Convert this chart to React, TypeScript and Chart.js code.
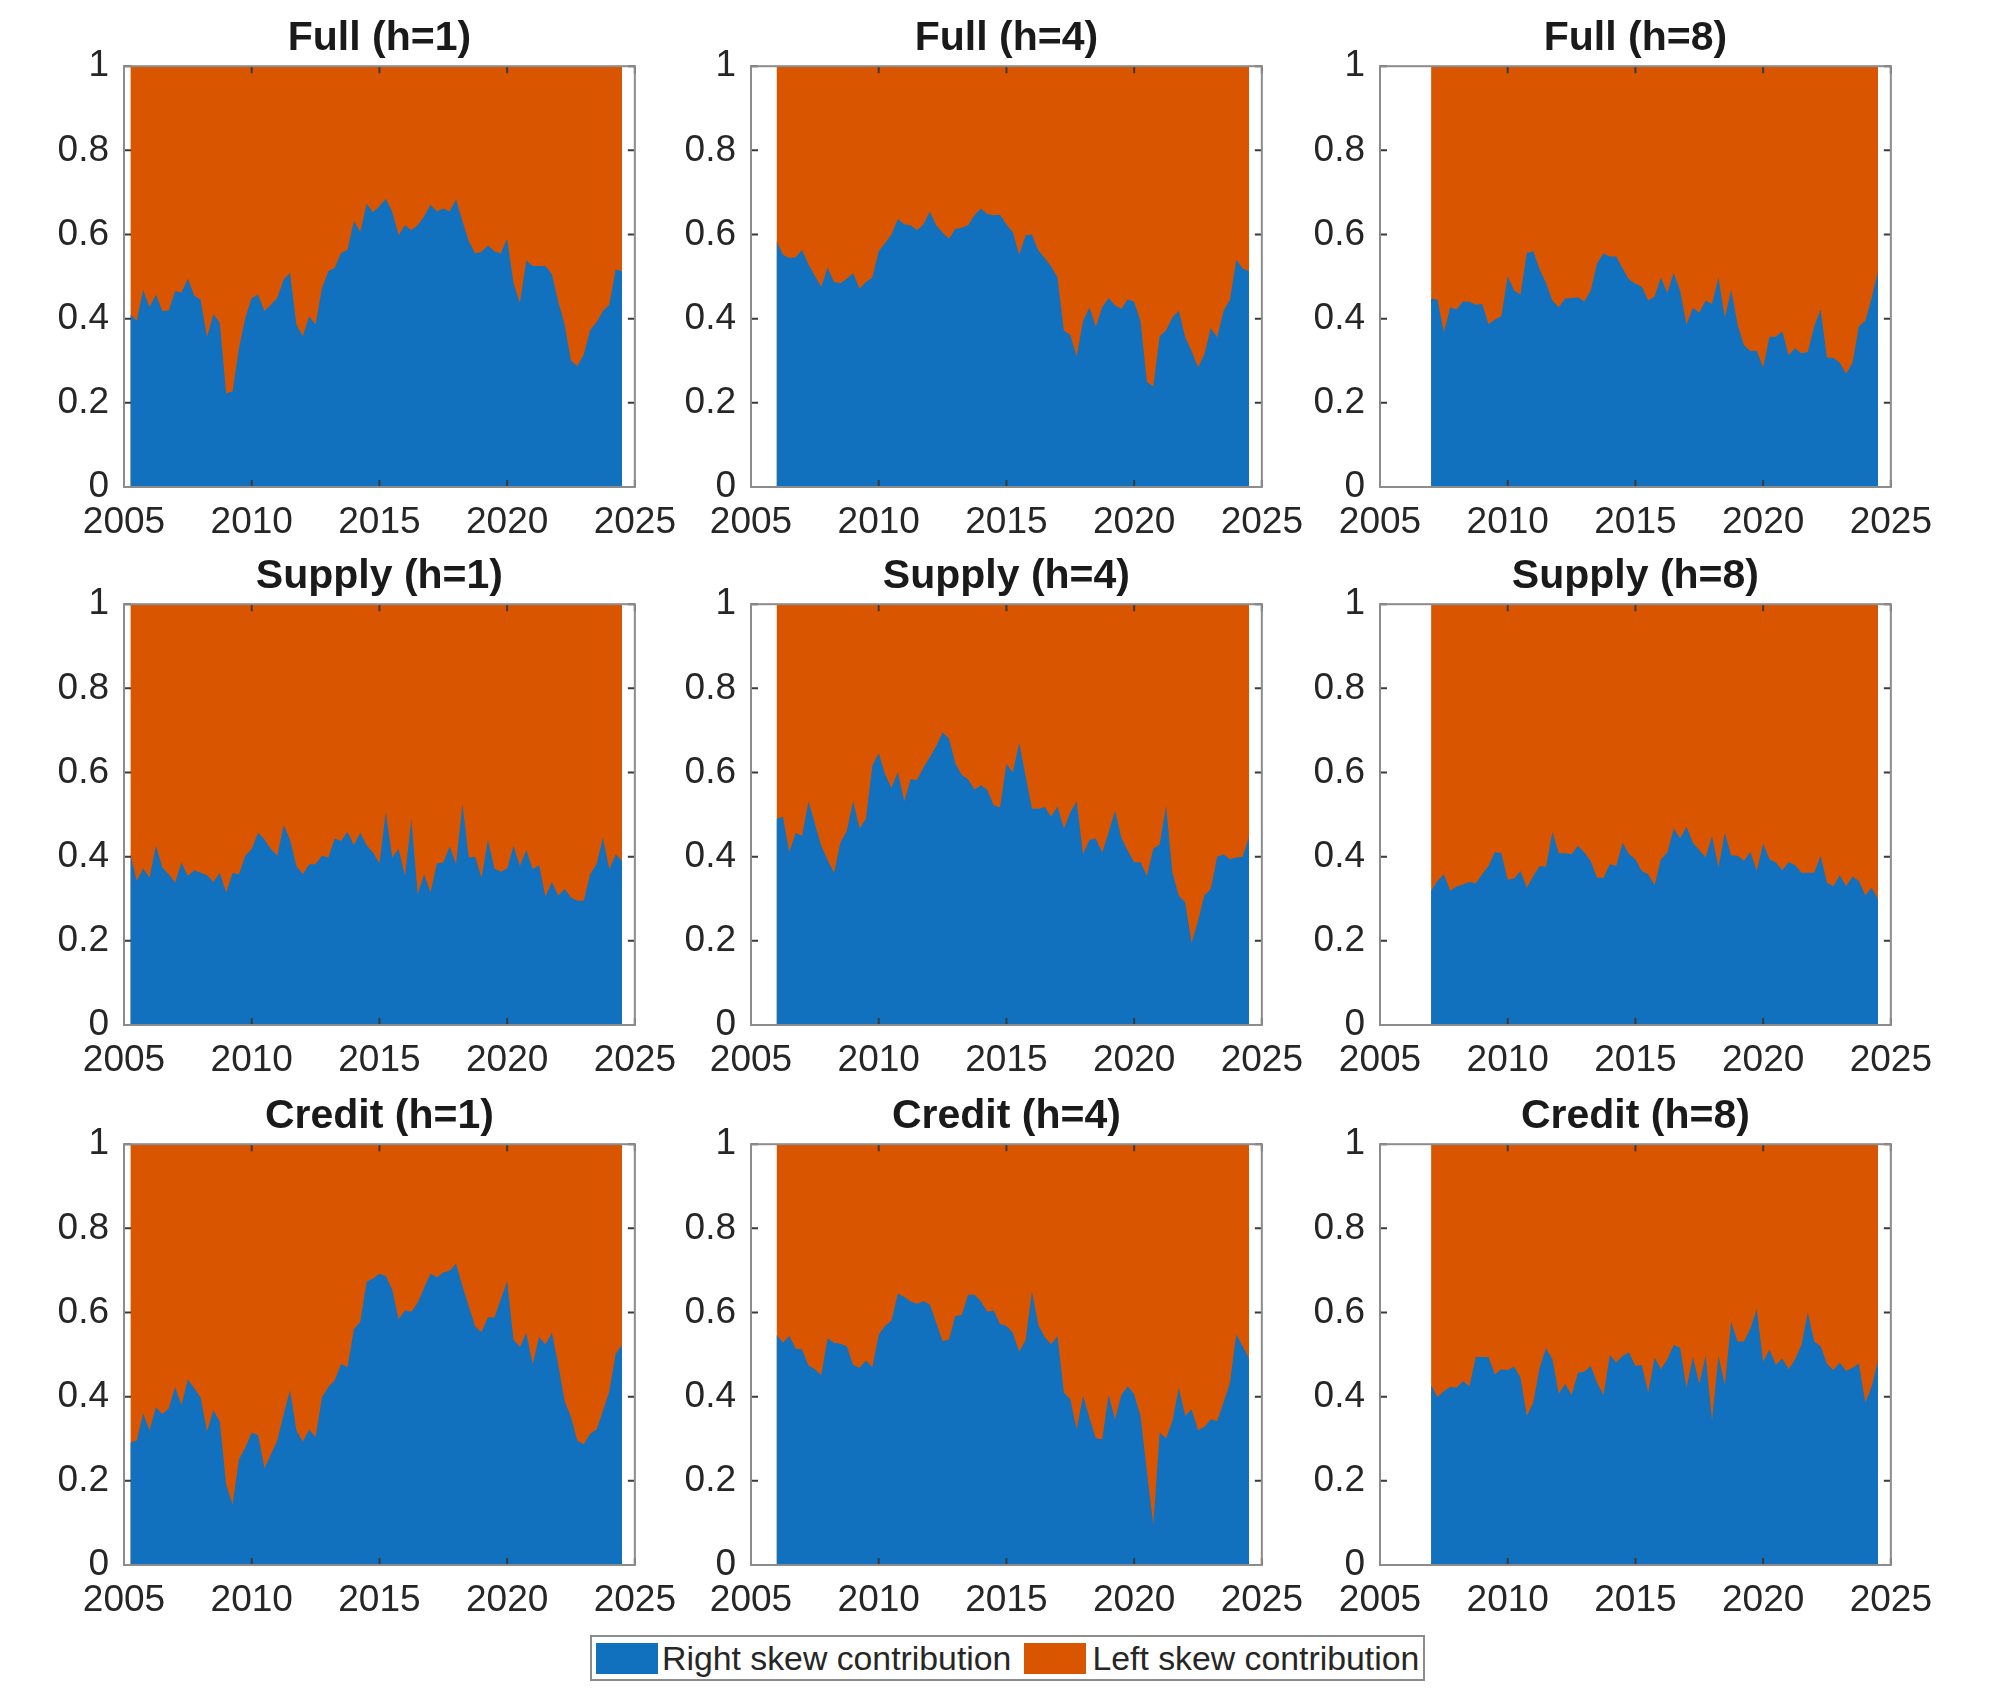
import React, { useEffect, useRef } from 'react';
import { Chart, registerables } from 'chart.js';

Chart.register(...registerables);

const FONT = '"Liberation Sans", Arial, Helvetica, sans-serif';
const BLUE = '#1171be';
const ORANGE = '#d95500';
const TEXT = '#262626';

const SERIES_RIGHT = 'Right skew contribution';
const SERIES_LEFT = 'Left skew contribution';

// first quarter of each horizon's sample (decimal years), quarterly data
const START_H1 = 2005.25;
const START_H4 = 2006.0;
const START_H8 = 2007.0;

const xTickValues = [2005, 2010, 2015, 2020, 2025];
const xTickLabels = ['2005', '2010', '2015', '2020', '2025'];
const yTickLabels = ['0', '0.2', '0.4', '0.6', '0.8', '1'];

// Right skew contribution (share)
const fullH1 = [0.410,0.395,0.468,0.427,0.457,0.418,0.419,0.465,0.462,0.495,0.455,0.445,0.356,0.411,0.390,0.223,0.227,0.330,0.402,0.449,0.457,0.418,0.433,0.449,0.493,0.509,0.386,0.358,0.406,0.386,0.473,0.513,0.521,0.556,0.564,0.632,0.606,0.673,0.653,0.667,0.685,0.655,0.598,0.622,0.610,0.622,0.643,0.671,0.655,0.662,0.655,0.683,0.632,0.584,0.555,0.559,0.574,0.560,0.555,0.590,0.485,0.437,0.538,0.525,0.525,0.525,0.506,0.441,0.386,0.300,0.287,0.315,0.373,0.391,0.418,0.433,0.517,0.513];
const fullH4 = [0.584,0.552,0.544,0.546,0.563,0.529,0.502,0.476,0.521,0.487,0.484,0.495,0.508,0.471,0.487,0.498,0.560,0.580,0.600,0.637,0.624,0.622,0.610,0.624,0.655,0.622,0.605,0.590,0.613,0.616,0.622,0.646,0.661,0.649,0.646,0.647,0.624,0.606,0.552,0.598,0.600,0.562,0.544,0.524,0.498,0.372,0.361,0.311,0.394,0.427,0.380,0.427,0.449,0.432,0.423,0.446,0.440,0.394,0.250,0.239,0.358,0.372,0.403,0.419,0.356,0.323,0.284,0.315,0.378,0.356,0.418,0.445,0.540,0.519,0.513];
const fullH8 = [0.448,0.445,0.368,0.427,0.422,0.441,0.440,0.433,0.435,0.387,0.398,0.406,0.501,0.467,0.457,0.556,0.560,0.517,0.485,0.443,0.427,0.448,0.449,0.451,0.441,0.467,0.532,0.555,0.548,0.548,0.519,0.493,0.483,0.476,0.443,0.453,0.498,0.461,0.509,0.467,0.386,0.426,0.414,0.443,0.435,0.498,0.402,0.469,0.386,0.337,0.323,0.324,0.284,0.357,0.357,0.370,0.313,0.330,0.318,0.321,0.382,0.422,0.307,0.307,0.295,0.269,0.295,0.382,0.395,0.449,0.513];
const supplyH1 = [0.406,0.342,0.372,0.350,0.426,0.374,0.358,0.338,0.386,0.354,0.368,0.362,0.356,0.340,0.362,0.315,0.361,0.358,0.402,0.418,0.457,0.441,0.418,0.402,0.475,0.440,0.378,0.358,0.382,0.382,0.402,0.398,0.443,0.437,0.459,0.427,0.457,0.427,0.410,0.384,0.506,0.398,0.419,0.354,0.489,0.311,0.358,0.315,0.384,0.386,0.424,0.382,0.525,0.398,0.400,0.350,0.441,0.372,0.364,0.372,0.426,0.378,0.416,0.370,0.380,0.305,0.340,0.307,0.323,0.303,0.295,0.295,0.358,0.382,0.445,0.370,0.406,0.390];
const supplyH4 = [0.490,0.495,0.411,0.457,0.449,0.532,0.479,0.426,0.392,0.361,0.433,0.461,0.532,0.467,0.490,0.616,0.646,0.596,0.564,0.601,0.532,0.584,0.582,0.612,0.636,0.663,0.695,0.681,0.622,0.594,0.584,0.559,0.570,0.559,0.522,0.517,0.620,0.600,0.671,0.592,0.514,0.514,0.518,0.495,0.519,0.467,0.505,0.532,0.406,0.440,0.443,0.410,0.457,0.509,0.445,0.414,0.387,0.387,0.354,0.419,0.429,0.521,0.362,0.307,0.291,0.194,0.247,0.308,0.323,0.400,0.406,0.394,0.398,0.400,0.448];
const supplyH8 = [0.319,0.342,0.358,0.319,0.329,0.334,0.340,0.337,0.358,0.378,0.411,0.408,0.345,0.348,0.366,0.326,0.354,0.378,0.376,0.459,0.408,0.408,0.406,0.426,0.410,0.390,0.350,0.350,0.382,0.378,0.433,0.406,0.394,0.366,0.358,0.332,0.394,0.410,0.467,0.443,0.471,0.433,0.416,0.398,0.449,0.374,0.457,0.403,0.402,0.390,0.412,0.366,0.431,0.394,0.386,0.368,0.387,0.380,0.362,0.362,0.362,0.402,0.338,0.330,0.356,0.330,0.353,0.342,0.308,0.326,0.299];
const creditH1 = [0.291,0.296,0.360,0.320,0.375,0.358,0.372,0.423,0.380,0.441,0.420,0.398,0.317,0.368,0.341,0.192,0.144,0.251,0.279,0.314,0.309,0.230,0.263,0.295,0.358,0.415,0.320,0.293,0.322,0.304,0.398,0.423,0.439,0.478,0.470,0.560,0.578,0.673,0.681,0.692,0.687,0.655,0.584,0.605,0.602,0.623,0.659,0.692,0.684,0.695,0.699,0.716,0.663,0.615,0.566,0.554,0.589,0.588,0.631,0.675,0.536,0.518,0.552,0.477,0.542,0.524,0.552,0.477,0.390,0.352,0.295,0.287,0.312,0.322,0.366,0.413,0.502,0.523];
const creditH4 = [0.547,0.528,0.544,0.514,0.512,0.474,0.465,0.451,0.539,0.528,0.526,0.520,0.475,0.469,0.486,0.470,0.547,0.568,0.581,0.645,0.637,0.626,0.621,0.627,0.619,0.576,0.532,0.536,0.592,0.594,0.642,0.642,0.627,0.602,0.605,0.573,0.568,0.552,0.507,0.534,0.650,0.570,0.542,0.524,0.544,0.410,0.394,0.322,0.402,0.350,0.301,0.299,0.404,0.346,0.404,0.425,0.406,0.354,0.223,0.095,0.314,0.301,0.342,0.421,0.354,0.370,0.320,0.328,0.346,0.342,0.386,0.433,0.548,0.520,0.491];
const creditH8 = [0.428,0.399,0.413,0.423,0.421,0.437,0.425,0.494,0.494,0.494,0.453,0.465,0.463,0.472,0.445,0.354,0.386,0.469,0.515,0.489,0.407,0.431,0.404,0.457,0.459,0.473,0.433,0.404,0.499,0.481,0.497,0.505,0.473,0.475,0.410,0.493,0.465,0.489,0.523,0.516,0.421,0.494,0.431,0.497,0.344,0.497,0.428,0.578,0.531,0.531,0.562,0.608,0.483,0.512,0.475,0.491,0.465,0.489,0.523,0.600,0.531,0.520,0.478,0.463,0.481,0.461,0.469,0.478,0.386,0.425,0.486];

const titles = [
  'Full (h=1)', 'Full (h=4)', 'Full (h=8)',
  'Supply (h=1)', 'Supply (h=4)', 'Supply (h=8)',
  'Credit (h=1)', 'Credit (h=4)', 'Credit (h=8)',
];
const starts = [START_H1, START_H4, START_H8];
const seriesGrid = [
  [fullH1, fullH4, fullH8],
  [supplyH1, supplyH4, supplyH8],
  [creditH1, creditH4, creditH8],
];

// layout (pixels)
const COL_LEFT = [124, 751, 1380];
const ROW_TOP = [66, 604, 1144];
const AX_W = 516;
const AX_H = 421;
const PAD_L = 100;
const PAD_T = 64;
const PAD_R = 50;
const PAD_B = 70;
const TITLE_PAD_B = 3;

function quarterDates(start: number, n: number): number[] {
  const out: number[] = [];
  for (let i = 0; i < n; i++) out.push(start + i * 0.25);
  return out;
}

const boxPlugin = {
  id: 'matlabBox',
  afterDatasetsDraw(chart: any) {
    const { ctx, chartArea: a, scales } = chart;
    const x = scales.x;
    const y = scales.y;
    const L = 7;
    ctx.save();
    ctx.strokeStyle = '#3a3a3a';
    ctx.lineWidth = 2;
    ctx.beginPath();
    x.ticks.forEach((t: any) => {
      const px = x.getPixelForValue(t.value);
      ctx.moveTo(px, a.bottom);
      ctx.lineTo(px, a.bottom - L);
      ctx.moveTo(px, a.top);
      ctx.lineTo(px, a.top + L);
    });
    y.ticks.forEach((t: any) => {
      const py = y.getPixelForValue(t.value);
      ctx.moveTo(a.left, py);
      ctx.lineTo(a.left + L, py);
      ctx.moveTo(a.right, py);
      ctx.lineTo(a.right - L, py);
    });
    ctx.stroke();
    ctx.strokeStyle = '#8c8c8c';
    ctx.lineWidth = 2;
    ctx.strokeRect(a.left, a.top, a.right - a.left, a.bottom - a.top);
    ctx.restore();
  },
};

function Panel(props: { title: string; start: number; values: number[]; left: number; top: number }) {
  const ref = useRef<HTMLCanvasElement | null>(null);
  const { title, start, values, left, top } = props;
  useEffect(() => {
    if (!ref.current) return;
    const dates = quarterDates(start, values.length);
    const rightPts = dates.map((d, i) => ({ x: d, y: values[i] }));
    const leftPts = dates.map((d, i) => ({ x: d, y: +(1 - values[i]).toFixed(3) }));
    const titleSize = 41;
    const titleBox = Math.round(titleSize * 1.2) + TITLE_PAD_B;
    const chart = new Chart(ref.current, {
      type: 'line',
      data: {
        datasets: [
          {
            label: SERIES_RIGHT,
            data: rightPts,
            backgroundColor: BLUE,
            borderColor: BLUE,
            borderWidth: 0,
            pointRadius: 0,
            fill: 'origin',
            tension: 0,
          },
          {
            label: SERIES_LEFT,
            data: leftPts,
            backgroundColor: ORANGE,
            borderColor: ORANGE,
            borderWidth: 0,
            pointRadius: 0,
            fill: 'origin',
            tension: 0,
          },
        ],
      } as any,
      options: {
        animation: false,
        responsive: false,
        devicePixelRatio: 1,
        events: [],
        layout: { padding: { top: PAD_T - titleBox, left: 0, right: PAD_R, bottom: 0 } },
        plugins: {
          legend: { display: false },
          tooltip: { enabled: false },
          title: {
            display: true,
            fullSize: false,
            text: title,
            color: '#1a1a1a',
            font: { family: FONT, size: titleSize, weight: 'bold', lineHeight: 1.2 },
            padding: { top: 0, bottom: TITLE_PAD_B },
          },
        },
        scales: {
          x: {
            type: 'linear',
            min: 2005,
            max: 2025,
            grid: { display: false, drawTicks: false },
            border: { display: false },
            ticks: {
              stepSize: 5,
              padding: 14,
              color: TEXT,
              maxRotation: 0,
              autoSkip: false,
              font: { family: FONT, size: 37 },
              callback: (v: any) => {
                const i = xTickValues.indexOf(Math.round(Number(v)));
                return i >= 0 ? xTickLabels[i] : '';
              },
            },
            afterFit: (s: any) => { s.height = PAD_B; },
          },
          y: {
            stacked: true,
            min: 0,
            max: 1,
            grid: { display: false, drawTicks: false },
            border: { display: false },
            ticks: {
              stepSize: 0.2,
              padding: 15,
              color: TEXT,
              autoSkip: false,
              font: { family: FONT, size: 37 },
              callback: (v: any) => yTickLabels[Math.round(Number(v) * 5)] ?? '',
            },
            afterFit: (s: any) => { s.width = PAD_L; },
          },
        },
      } as any,
      plugins: [boxPlugin],
    });
    return () => chart.destroy();
  }, [title, start, values]);

  return (
    <canvas
      ref={ref}
      width={PAD_L + AX_W + PAD_R}
      height={PAD_T + AX_H + PAD_B}
      style={{
        position: 'absolute',
        left: left - PAD_L,
        top: top - PAD_T,
        width: PAD_L + AX_W + PAD_R,
        height: PAD_T + AX_H + PAD_B,
      }}
    />
  );
}

export default function App() {
  const panels: any[] = [];
  for (let r = 0; r < 3; r++) {
    for (let c = 0; c < 3; c++) {
      panels.push(
        <Panel
          key={`${r}-${c}`}
          title={titles[r * 3 + c]}
          start={starts[c]}
          values={seriesGrid[r][c]}
          left={COL_LEFT[c]}
          top={ROW_TOP[r]}
        />
      );
    }
  }
  const patch = (color: string, ml: number) => (
    <span style={{ display: 'inline-block', width: 62, height: 31, background: color, marginLeft: ml, flex: 'none' }} />
  );
  return (
    <div
      style={{
        position: 'absolute',
        left: 0,
        top: 0,
        width: 2000,
        height: 1688,
        background: '#ffffff',
        overflow: 'hidden',
      }}
    >
      {panels}
      <div
        style={{
          position: 'absolute',
          left: 590,
          top: 1635,
          width: 835,
          height: 46,
          boxSizing: 'border-box',
          border: '2px solid #8c8c8c',
          background: '#ffffff',
          display: 'flex',
          alignItems: 'center',
          fontFamily: FONT,
          fontSize: 33.8,
          color: TEXT,
          whiteSpace: 'nowrap',
        }}
      >
        {patch(BLUE, 4)}
        <span style={{ marginLeft: 4 }}>{SERIES_RIGHT}</span>
        {patch(ORANGE, 13)}
        <span style={{ marginLeft: 6 }}>{SERIES_LEFT}</span>
      </div>
    </div>
  );
}
